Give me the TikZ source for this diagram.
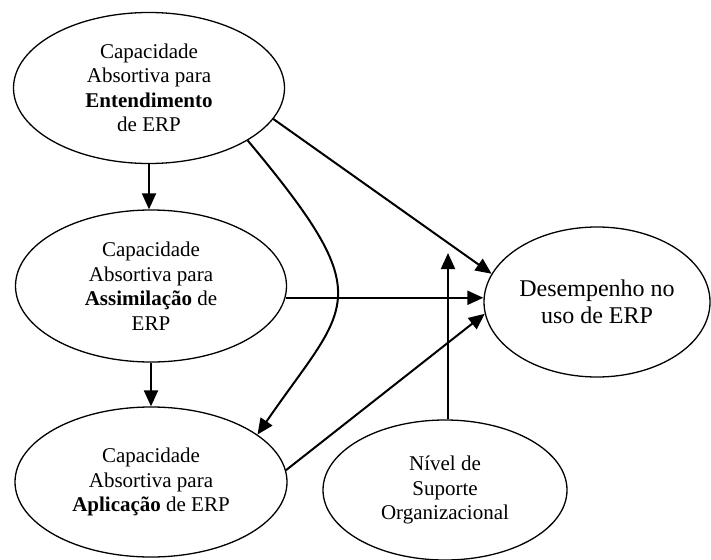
\documentclass[tikz,border=0pt]{standalone}
\usepackage{fontspec}
\setmainfont{Liberation Serif}
\usetikzlibrary{shapes.geometric}
\usetikzlibrary{arrows.meta}

\begin{document}
\begin{tikzpicture}[x=1pt,y=-1pt,
  constructo/.style={draw,ellipse,line width=1.3pt,inner sep=0pt,align=center,
    font=\fontsize{21}{24.5}\selectfont},
  seta/.style={line width=2pt,-{Triangle[length=16pt,width=14pt]}}]
\useasboundingbox (0,0) rectangle (711,559);
% construtos
\node[constructo,minimum width=271,minimum height=151] (ent) at (149,88)
  {Capacidade\\Absortiva para\\\textbf{Entendimento}\\de ERP};
\node[constructo,minimum width=271,minimum height=152] (ass) at (151,286)
  {Capacidade\\Absortiva para\\\textbf{Assimilação} de\\ERP};
\node[constructo,minimum width=272,minimum height=150] (apl) at (151,482)
  {Capacidade\\Absortiva para\\\textbf{Aplicação} de ERP};
\node[constructo,minimum width=226,minimum height=150,
  font=\fontsize{24}{27}\selectfont] (des) at (597,302)
  {Desempenho no\\uso de ERP};
\node[constructo,minimum width=244,minimum height=140] (niv) at (445,490)
  {Nível de\\Suporte\\Organizacional};
\coordinate (mod) at (448,253);
% relacoes
\draw[seta] (ent.south) -- (ent.south |- ass.north);
\draw[seta] (ass.south) -- (ass.south |- apl.north);
\draw[seta] (ent.-14) -- (des.165);
\draw[seta] (ent.-28) .. controls (382,301) and (348,303) .. (apl.24);
\draw[seta] (ass.-5) -- (ass.-5 -| des.west);
\draw[seta] (apl.5) -- (des.-174);
\draw[seta] (niv.north -| mod) -- (mod);
\end{tikzpicture}
\end{document}
